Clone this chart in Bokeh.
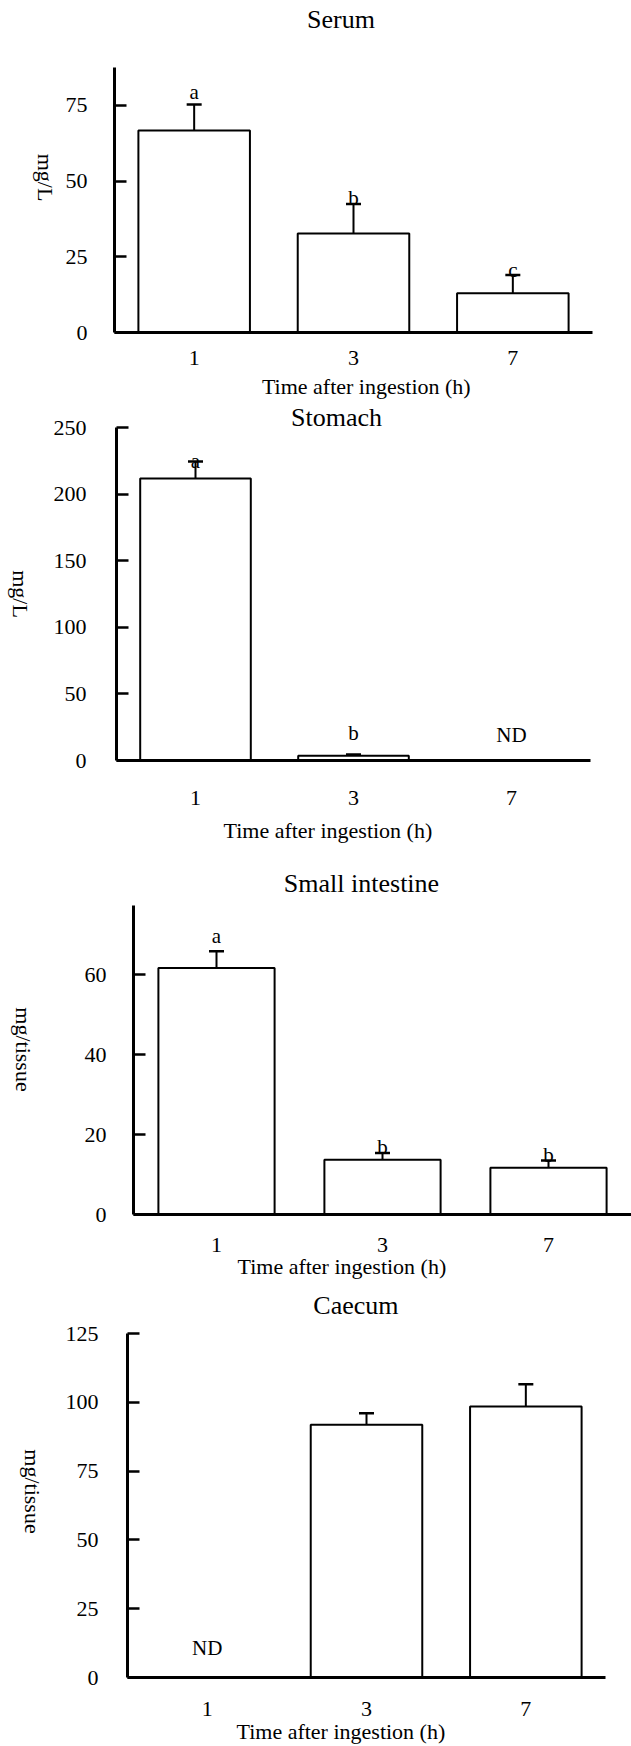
import math
import numpy as np
from bokeh.plotting import figure
from bokeh.models import (FactorRange, Range1d, FixedTicker, Label, Title,
                          Whisker, TeeHead, ColumnDataSource)
from bokeh.layouts import row
from bokeh.embed import file_html
from bokeh.resources import INLINE
from bokeh.core.properties import value

NAN = float("nan")
FONT = "Liberation Serif"
W = 631

# ---------------- data ----------------
times = ["1", "3", "7"]
x_title = "Time after ingestion (h)"

serum_mean = [66.7, 32.7, 13.0]
serum_err = [8.6, 9.7, 6.0]
serum_letters = ["a", "b", "c"]
serum_letter_y = [77.3, 42.5, 18.8]
serum_ticks = [0, 25, 50, 75]

stomach_mean = [211.7, 3.5, NAN]
stomach_err = [12.8, 1.0, NAN]
stomach_letters = ["a", "b", "ND"]
stomach_letter_y = [220.0, 16.3, 15.0]
stomach_ticks = [0, 50, 100, 150, 200, 250]

si_mean = [61.6, 13.7, 11.7]
si_err = [4.2, 1.7, 1.8]
si_letters = ["a", "b", "b"]
si_letter_y = [68.2, 15.3, 13.5]
si_ticks = [0, 20, 40, 60]

caecum_mean = [NAN, 91.8, 98.5]
caecum_err = [NAN, 4.2, 8.1]
caecum_letters = ["ND", "", ""]
caecum_letter_y = [8.7, NAN, NAN]
caecum_ticks = [0, 25, 50, 75, 100, 125]


def blank(width, height, bottom_border=0):
    f = figure(width=width, height=height, x_range=Range1d(0, width),
               y_range=Range1d(0, height - bottom_border),
               x_axis_type=None, y_axis_type=None, output_backend="svg",
               toolbar_location=None, title=None,
               min_border_left=0, min_border_right=0, min_border_top=0,
               min_border_bottom=bottom_border)
    f.outline_line_color = None
    f.background_fill_color = "white"
    f.border_fill_color = "white"
    return f


def make_panel(title, ylabel, mean, err, letters, letter_y, ticks, vtop, g):
    H = g["height"]
    lw = g["lab_w"]
    fl, fr, at, fb = g["left"], g["right"], g["axis_top"], g["bottom"]
    fw = fr - fl
    ppu = (fb - at) / vtop          # pixels per data unit
    yend = fb / ppu                 # frame reaches the top of the figure

    # narrow strip on the left that carries the rotated y-axis title
    lab = blank(lw, H, H - fb)
    lab.add_layout(Label(x=g["ylabel_at"][0], y=fb - g["ylabel_at"][1], text=ylabel,
                         angle=-math.pi / 2, text_font=FONT, text_font_size="22px",
                         text_align="center", text_baseline="middle", text_color="black"))

    p = figure(width=W - lw, height=H, x_range=FactorRange(factors=times),
               y_range=Range1d(0, yend), output_backend="svg",
               toolbar_location=None, title=None,
               min_border_left=fl - lw, min_border_right=W - fr,
               min_border_top=0, min_border_bottom=H - fb)
    p.outline_line_color = None
    p.xgrid.visible = False
    p.ygrid.visible = False
    p.background_fill_color = "white"
    p.border_fill_color = "white"

    m = np.array(mean, dtype=float)
    e = np.array(err, dtype=float)
    src = ColumnDataSource(dict(x=times, top=m, upper=m + e))
    p.vbar(x="x", top="top", bottom=0, width=0.7, source=src,
           fill_color="white", line_color="black", line_width=2)
    p.add_layout(Whisker(source=src, base="x", lower="top", upper="upper",
                         line_color="black", line_width=2,
                         upper_head=TeeHead(size=15, line_width=2.5, line_color="black"),
                         lower_head=None))

    lx = [t for t, l in zip(times, letters) if l]
    ly = [y for y, l in zip(letter_y, letters) if l]
    lt = [l for l in letters if l]
    p.text(x=lx, y=ly, text=lt, text_font=value(FONT), text_font_size="21px",
           text_align="center", text_baseline="alphabetic", text_color="black",
           y_offset=-6)

    # panel title (inside the frame, above the y axis top)
    tx = (g["title_at"][0] - fl) / fw * len(times)
    ty = (fb - g["title_at"][1]) / ppu
    p.add_layout(Label(x=tx, y=ty, text=title, text_font=FONT, text_font_size="26px",
                       text_align="center", text_baseline="middle", text_color="black"))

    roots = []
    strip = None
    if "strip_h" in g:
        # x axis title drawn in a thin strip right under the panel
        strip = blank(W, g["strip_h"])
        strip.add_layout(Label(x=g["xl_center"][0], y=g["strip_h"] - g["xl_center"][1],
                               text=x_title, text_font=FONT, text_font_size="22px",
                               text_align="center", text_baseline="middle",
                               text_color="black"))
    else:
        p.add_layout(Title(text=x_title, align="left", offset=g["xl_left"] - fl,
                           vertical_align="top", standoff=g["xl_stand"],
                           text_font=FONT, text_font_size="22px", text_font_style="normal",
                           text_color="black"), "below")

    yax = p.yaxis[0]
    yax.ticker = FixedTicker(ticks=ticks)
    yax.bounds = (0, vtop)
    yax.major_tick_in = 12
    yax.major_tick_out = 0
    yax.minor_tick_line_color = None
    yax.axis_line_width = 3
    yax.axis_line_color = "black"
    yax.major_tick_line_width = 2.5
    yax.major_tick_line_color = "black"
    yax.major_label_standoff = g["ystand"]
    yax.major_label_text_font = FONT
    yax.major_label_text_font_size = "22px"
    yax.major_label_text_color = "black"

    xax = p.xaxis[0]
    xax.axis_line_width = 3
    xax.axis_line_color = "black"
    xax.major_tick_line_color = None
    xax.major_tick_in = 0
    xax.major_tick_out = 0
    xax.minor_tick_line_color = None
    xax.major_label_standoff = g["xstand"]
    xax.major_label_text_font = FONT
    xax.major_label_text_font_size = "22px"
    xax.major_label_text_color = "black"

    roots.append(row(lab, p, spacing=0))
    if strip is not None:
        roots.append(strip)
    return roots


# layout geometry in pixels, relative to the top of each panel
g1 = dict(height=373, lab_w=62, left=113, right=592, axis_top=67, bottom=332,
          title_at=(340, 18.5), ylabel_at=(45, 177), ystand=27, xstand=18,
          strip_h=30, xl_center=(365.8, 13))
g2 = dict(height=457, lab_w=50, left=116, right=590, axis_top=24, bottom=357,
          title_at=(336, 14), ylabel_at=(20, 190.5), xl_left=223, xl_stand=21,
          ystand=30, xstand=30)
g3 = dict(height=420, lab_w=55, left=133, right=631, axis_top=45, bottom=354,
          title_at=(361, 23.3), ylabel_at=(23, 189), xl_left=237, xl_stand=-2,
          ystand=27, xstand=23)
g4 = dict(height=466, lab_w=55, left=127, right=605, axis_top=53, bottom=397,
          title_at=(355.4, 25), ylabel_at=(32, 211), xl_left=236, xl_stand=0,
          ystand=29, xstand=24)

roots = []
roots += make_panel("Serum", "mg/L", serum_mean, serum_err, serum_letters,
                    serum_letter_y, serum_ticks, 87.5, g1)
roots += make_panel("Stomach", "mg/L", stomach_mean, stomach_err, stomach_letters,
                    stomach_letter_y, stomach_ticks, 250, g2)
roots += make_panel("Small intestine", "mg/tissue", si_mean, si_err, si_letters,
                    si_letter_y, si_ticks, 77.25, g3)
roots += make_panel("Caecum", "mg/tissue", caecum_mean, caecum_err, caecum_letters,
                    caecum_letter_y, caecum_ticks, 125, g4)

open("out.html", "w").write(file_html(roots, INLINE))
